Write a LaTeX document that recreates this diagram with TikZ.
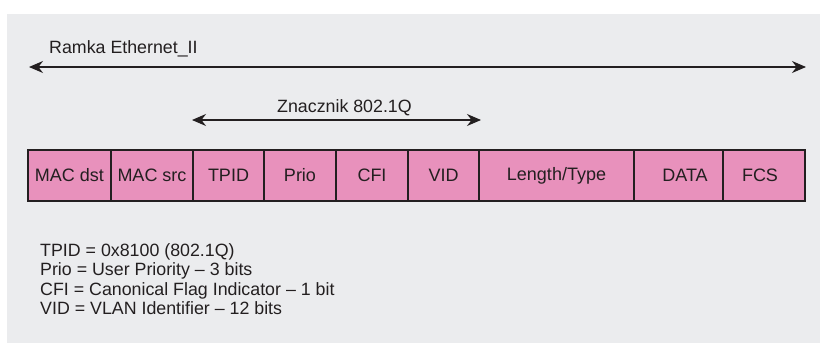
\documentclass[tikz,border=0pt]{standalone}
\usepackage{fontspec}
\setmainfont{Liberation Sans}
\usetikzlibrary{positioning}
\usetikzlibrary{arrows.meta}

\definecolor{panelgray}{HTML}{EBECEE}
\definecolor{fieldpink}{HTML}{E891BC}
\definecolor{inkdark}{HTML}{231F20}

\begin{document}
\begin{tikzpicture}[x=1pt,y=-1pt,
  field/.style={draw=inkdark, line width=1.4pt, fill=fieldpink, minimum height=51pt, inner sep=0pt, outer sep=0pt, font=\fontsize{18}{19.5}\selectfont, text=inkdark},
  span/.style={draw=inkdark, line width=1.3pt, {Stealth[length=14pt,width=12pt]}-{Stealth[length=14pt,width=12pt]}},
  caption/.style={font=\fontsize{17.8}{19.5}\selectfont, text=inkdark, inner sep=0pt, anchor=base west}]

\useasboundingbox (0,0) rectangle (820,343);
\fill[white] (0,0) rectangle (820,343);
\fill[panelgray] (7,14) rectangle (820,343);

% pola ramki
\node[field, minimum width=83pt] (macdst) at (69.5,175.5) {MAC dst};
\node[field, minimum width=82pt, right=0pt of macdst] (macsrc) {MAC src};
\node[field, minimum width=71pt, right=0pt of macsrc] (tpid) {TPID};
\node[field, minimum width=72pt, right=0pt of tpid] (prio) {Prio};
\node[field, minimum width=72pt, right=0pt of prio] (cfi) {CFI};
\node[field, minimum width=71pt, right=0pt of cfi] (vid) {VID};
\node[field, minimum width=155pt, right=0pt of vid] (lentype) {Length/Type};
\node[field, minimum width=89pt, right=0pt of lentype] (data) {\hspace*{13pt}DATA};
\node[field, minimum width=82pt, right=0pt of data] (fcs) {FCS\hspace*{8pt}};

% zakresy
\coordinate (ethL) at (29,67);
\coordinate (ethR) at (806,67);
\draw[span] (ethL) -- (ethR);
\node[caption] (ethlabel) at (49,53) {Ramka Ethernet\_II};

\coordinate (tagL) at (192,120);
\coordinate (tagR) at (481,120);
\draw[span] (tagL) -- (tagR);
\node[caption] (taglabel) at (277,112) {Znacznik 802.1Q};

% legenda
\node[caption] (leg1) at (40,256) {TPID = 0x8100 (802.1Q)};
\node[caption] (leg2) at (40,275.5) {Prio = User Priority – 3 bits};
\node[caption] (leg3) at (40,295) {CFI = Canonical Flag Indicator – 1 bit};
\node[caption] (leg4) at (40,314.5) {VID = VLAN Identifier – 12 bits};

\end{tikzpicture}
\end{document}
